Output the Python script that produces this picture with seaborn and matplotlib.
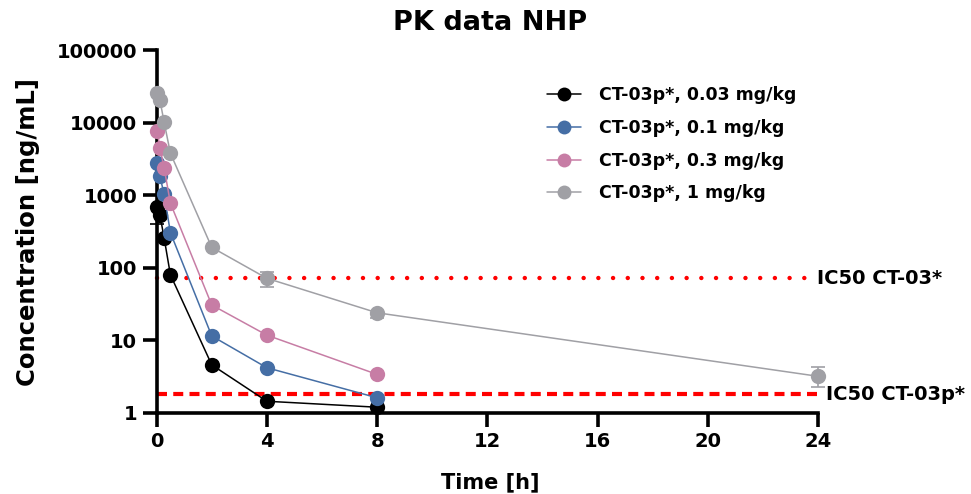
import pandas as pd
import matplotlib
matplotlib.use("Agg")
import matplotlib.pyplot as plt
import seaborn as sns

# sampling times (h)
times = [0.02, 0.12, 0.27, 0.5, 2, 4, 8, 24]

dose_labels = [
    "CT-03p*, 0.03 mg/kg",
    "CT-03p*, 0.1 mg/kg",
    "CT-03p*, 0.3 mg/kg",
    "CT-03p*, 1 mg/kg",
]
conc_003 = [695, 530, 260, 80, 4.6, 1.45, 1.2]
conc_01 = [2750, 1830, 1030, 305, 11.5, 4.2, 1.62]
conc_03 = [7600, 4500, 2400, 775, 30.7, 11.8, 3.4]
conc_1 = [25800, 20400, 10200, 3780, 191, 71.6, 24, 3.2]

# visible error bars (time, series index, lower, upper)
err_time = [0.02, 4, 8, 24]
err_series = [0, 3, 3, 3]
err_low = [400, 54, 20.5, 2.3]
err_high = [695, 87, 24, 4.25]

ic50_ct03 = 72
ic50_ct03p = 1.8

colors = ["#000000", "#456ea5", "#c77da5", "#a0a0a5"]

sns.set_theme(style="ticks")
plt.rcParams["font.family"] = ["DejaVu Sans"]
plt.rcParams["font.weight"] = "bold"
plt.rcParams["text.color"] = "black"
plt.rcParams["axes.labelcolor"] = "black"
plt.rcParams["xtick.color"] = "black"
plt.rcParams["ytick.color"] = "black"

rows = []
for label, values in zip(dose_labels, [conc_003, conc_01, conc_03, conc_1]):
    for t, c in zip(times, values):
        rows.append({"Time": t, "Conc": c, "Dose": label})
df = pd.DataFrame(rows)

fig = plt.figure(figsize=(9.71, 4.94), dpi=100)
ax = fig.add_axes([0.1528, 0.1498, 0.7038, 0.7606])

# error bars first so markers sit on top
all_series = [conc_003, conc_01, conc_03, conc_1]
for t, s, lo, hi in zip(err_time, err_series, err_low, err_high):
    y = all_series[s][times.index(t)]
    ax.errorbar([t], [y], yerr=[[y - lo], [hi - y]], fmt="none",
                ecolor=colors[s], elinewidth=1.2, capsize=5, capthick=1.2,
                zorder=2, clip_on=False)

sns.lineplot(data=df, x="Time", y="Conc", hue="Dose", hue_order=dose_labels,
             palette=colors, marker="o", markersize=11, markeredgewidth=0,
             linewidth=1.1, estimator=None, ax=ax, zorder=3, clip_on=False)

ax.hlines(ic50_ct03, 0, 23.6, colors="#ff0000", linewidth=3.2,
          linestyles=(0, (0.01, 3.3)), capstyle="round", zorder=1)
ax.hlines(ic50_ct03p, 0, 24.0, colors="#ff0000", linewidth=3.0,
          linestyles=(0, (2.4, 1.5)), zorder=1)
ax.text(23.95, ic50_ct03, "IC50 CT-03*", fontsize=14, fontweight="bold",
        va="center", ha="left", clip_on=False)
ax.text(24.3, ic50_ct03p, "IC50 CT-03p*", fontsize=14, fontweight="bold",
        va="center", ha="left", clip_on=False)

ax.set_yscale("log")
ax.set_xlim(-0.3, 24.5)
ax.set_ylim(0.8, 1.2e5)
ax.set_xticks([0, 4, 8, 12, 16, 20, 24])
ax.set_yticks([1, 10, 100, 1000, 10000, 100000])
ax.set_yticklabels(["1", "10", "100", "1000", "10000", "100000"])
ax.minorticks_off()

for side in ["top", "right"]:
    ax.spines[side].set_visible(False)
ax.spines["left"].set_position(("data", 0))
ax.spines["bottom"].set_position(("data", 1))
ax.spines["left"].set_bounds(1, 1e5)
ax.spines["bottom"].set_bounds(0, 24)
for side in ["left", "bottom"]:
    ax.spines[side].set_linewidth(2.6)
    ax.spines[side].set_color("black")
ax.tick_params(axis="both", which="major", length=10, width=2.6,
               color="black", labelsize=14, pad=4)
for lab in ax.get_xticklabels() + ax.get_yticklabels():
    lab.set_fontweight("bold")

ax.set_xlabel("Time [h]", fontsize=15, fontweight="bold", labelpad=15)
ax.set_ylabel("Concentration [ng/mL]", fontsize=17.5, fontweight="bold",
              labelpad=12)
ax.set_title("PK data NHP", fontsize=19.5, fontweight="bold", pad=10)

handles, labels = ax.get_legend_handles_labels()
leg = ax.legend(handles, labels, loc="upper left",
                bbox_to_anchor=(0.56, 0.93), frameon=False,
                prop={"size": 12.5, "weight": "bold"}, handlelength=2.0,
                labelspacing=0.85, handletextpad=1.0)
for h in leg.legend_handles:
    h.set_markersize(10)

fig.savefig("out.png", dpi=100)
